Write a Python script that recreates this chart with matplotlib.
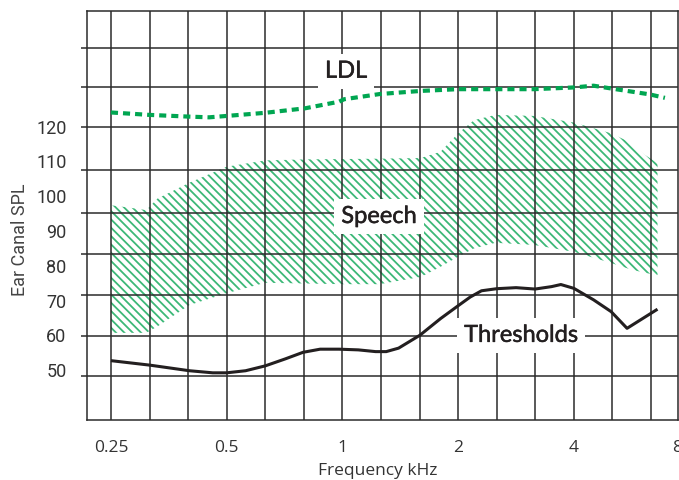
import matplotlib.pyplot as plt
import matplotlib.patheffects as pe
import numpy as np

# LDL (dotted green line)
ldl_freq = [0.25, 0.315, 0.4, 0.45, 0.5, 0.63, 0.8, 0.98, 1.01, 1.25, 1.6, 2.0, 2.5, 3.15, 4.0, 4.5, 5.0, 6.3, 6.9]
ldl_db = [124.1, 123.4, 122.9, 122.7, 123.1, 124.0, 125.3, 127.2, 127.9, 129.4, 130.3, 130.8, 130.8, 130.8, 131.3, 131.8, 131.0, 129.3, 128.3]

# Speech (hatched band)
speech_freq = [0.25, 0.28, 0.309, 0.33, 0.4, 0.5, 0.63, 0.8, 1.0, 1.25, 1.6, 1.8, 2.0, 2.2, 2.5, 3.15, 4.0, 5.0, 5.6, 6.1, 6.6]
speech_hi = [97.4, 96.7, 96.0, 99.3, 103.9, 108.5, 110.3, 110.6, 110.7, 110.8, 111.0, 112.8, 118.1, 121.9, 123.4, 123.1, 121.2, 118.1, 115.5, 112.0, 109.5]
speech_lo = [60.7, 60.7, 60.7, 62.5, 68.7, 72.1, 75.1, 74.9, 74.7, 74.7, 76.8, 79.7, 82.6, 85.0, 86.6, 86.0, 84.0, 80.8, 79.0, 78.0, 77.3]

# Thresholds (black line)
thr_freq = [0.25, 0.316, 0.4, 0.46, 0.5, 0.56, 0.63, 0.71, 0.79, 0.875, 0.98, 1.1, 1.22, 1.3, 1.4, 1.59, 1.8, 2.0, 2.15, 2.3, 2.52,
            2.83, 3.17, 3.5, 3.7, 4.0, 4.5, 5.0, 5.5, 6.6]
thr_db = [52.7, 51.4, 49.8, 49.2, 49.2, 49.8, 51.2, 53.2, 55.1, 56.0, 56.0, 55.8, 55.3, 55.3, 56.3, 60.0, 64.8, 68.5, 71.0, 72.8, 73.4,
          73.7, 73.3, 74.0, 74.6, 73.5, 70.2, 66.8, 62.0, 67.5]

# axis ticks / grid
x_tick_pos = [0.25, 0.5, 1, 2, 4, 7.43]
x_tick_lab = ['0.25', '0.5', '1', '2', '4', '8']
x_grid = [0.25 * 2 ** (k / 3) for k in range(15)]
y_labels = [50, 60, 70, 80, 90, 100, 110, 120]
y_grid = [48.19, 59.87, 71.58, 83.29, 95.09, 107.54, 120, 131.33, 142.73]

grid_col = '#2b2b2b'
green = '#00a651'
hatch_green = '#3cb878'

plt.rcParams['hatch.linewidth'] = 1.3
plt.rcParams['hatch.color'] = hatch_green

fig = plt.figure(figsize=(6.79, 4.8), dpi=100)
ax = fig.add_axes([87.3 / 679, 59.7 / 480, (677.5 - 87.3) / 679, 409.3 / 480])

ax.set_xscale('log', base=2)
ax.set_xlim(0.217, 7.44)
ax.set_ylim(35.54, 153.29)

ax.fill_between(speech_freq, speech_lo, speech_hi, facecolor='none',
                edgecolor=hatch_green, hatch='\\\\\\\\', linewidth=0, zorder=1)
ax.plot(ldl_freq, ldl_db, color=green, lw=3.0, linestyle=(0, (1.7, 1.2)),
        dash_capstyle='butt', zorder=3)
ax.plot(thr_freq, thr_db, color='#231f20', lw=2.2, solid_capstyle='butt',
        solid_joinstyle='round', zorder=3)

# grid & ticks
ax.xaxis.remove_overlapping_locs = False
ax.yaxis.remove_overlapping_locs = False
ax.set_xticks(x_tick_pos)
ax.set_xticklabels(x_tick_lab, fontfamily='Open Sans', fontsize=12.5, color='#333333')
ax.set_xticks(x_grid, minor=True)
ax.xaxis.set_minor_formatter(plt.NullFormatter())
ax.tick_params(axis='x', which='both', length=0, pad=14)

ax.set_yticks(y_grid)
ax.set_yticklabels([])
ax.set_yticks(y_labels, minor=True)
ax.set_yticklabels([str(v) for v in y_labels], minor=True,
                   fontfamily='Roboto', fontsize=13, color='#333333')
ax.tick_params(axis='y', which='major', length=4.5, width=1.1, color=grid_col)
ax.tick_params(axis='y', which='minor', length=0, pad=15)

ax.grid(which='major', axis='y', color=grid_col, lw=1.1, zorder=2)
ax.grid(which='minor', axis='x', color=grid_col, lw=1.1, zorder=2)
ax.set_axisbelow(False)
for s in ax.spines.values():
    s.set_color(grid_col)
    s.set_linewidth(1.1)

ax.set_xlabel('Frequency kHz', fontfamily='Open Sans', fontsize=12.5, color='#333333', labelpad=0)
ax.xaxis.set_label_coords(0.492, -0.105)
ax.set_ylabel('Ear Canal SPL', fontfamily='Roboto', fontsize=13, color='#444444')
ax.yaxis.set_label_coords(-0.098, 0.44)

box = dict(facecolor='white', edgecolor='none', boxstyle='square,pad=0.3')
lab = dict(fontfamily='Lato', fontsize=17, fontweight='normal', color='#231f20',
           ha='center', va='baseline', zorder=5, bbox=box,
           path_effects=[pe.withStroke(linewidth=0.35, foreground='#231f20')])
ax.text(1.022, 134.1, 'LDL', **lab)
ax.text(1.245, 92.3, 'Speech', **lab)
ax.text(2.916, 58.1, 'Thresholds', **lab)

fig.savefig('out.png', dpi=100)
